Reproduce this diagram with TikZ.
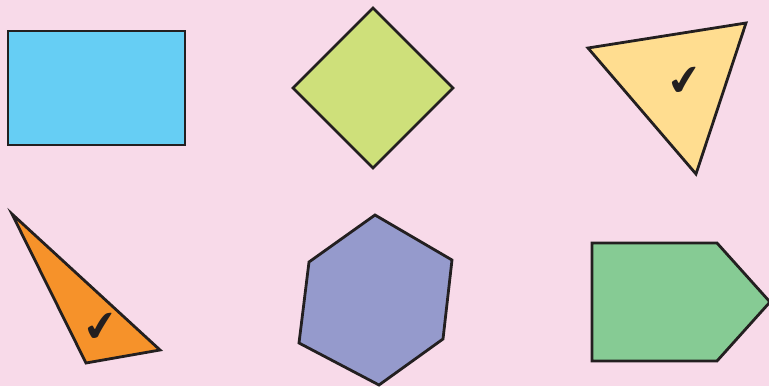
\documentclass[tikz,border=0pt]{standalone}
\definecolor{bgpink}{RGB}{248,218,233}
\definecolor{skyblue}{RGB}{102,206,244}
\definecolor{limegreen}{RGB}{206,224,122}
\definecolor{sandyellow}{RGB}{255,221,144}
\definecolor{tangerine}{RGB}{246,146,42}
\definecolor{lavender}{RGB}{149,154,204}
\definecolor{leafgreen}{RGB}{134,203,148}
\definecolor{inkdark}{RGB}{35,31,32}
\usepackage{fontspec}
\newfontfamily\symbolfont{DejaVu Sans}
\usepackage{tikz}
\usetikzlibrary{positioning}

\tikzset{
    shapeline/.style={draw=inkdark, line width=2.8pt, line join=miter},
    tickmark/.style={inner sep=0pt, text=inkdark, rotate=8, font=\symbolfont\fontsize{42}{42}\selectfont}
}

\begin{document}
\begin{tikzpicture}[x=1pt, y=-1pt]
            \fill[bgpink] (0,0) rectangle (769,386);
            \useasboundingbox (0,0) rectangle (769,386);
            % top row
            \draw[shapeline, fill=skyblue] (8,31) rectangle (185,145);
            \draw[shapeline, fill=limegreen] (373,8) -- (453,88) -- (373,168) -- (293,88) -- cycle;
            \draw[shapeline, fill=sandyellow] (588,48) -- (746,23) -- (696,174) -- cycle;
            \node[tickmark] (tickyellow) at (685,82) {✔};
            % bottom row
            \draw[shapeline, fill=tangerine] (12,214) -- (160,350) -- (86,363) -- cycle;
            \node[tickmark] (tickorange) at (101,328) {✔};
            \draw[shapeline, fill=lavender] (375,215) -- (452,260) -- (443,339) -- (379,385)
                -- (299,343) -- (309,262) -- cycle;
            \draw[shapeline, fill=leafgreen] (592,243) -- (717,243) -- (770,302) -- (717,361)
                -- (592,361) -- cycle;
        \end{tikzpicture}
\end{document}
